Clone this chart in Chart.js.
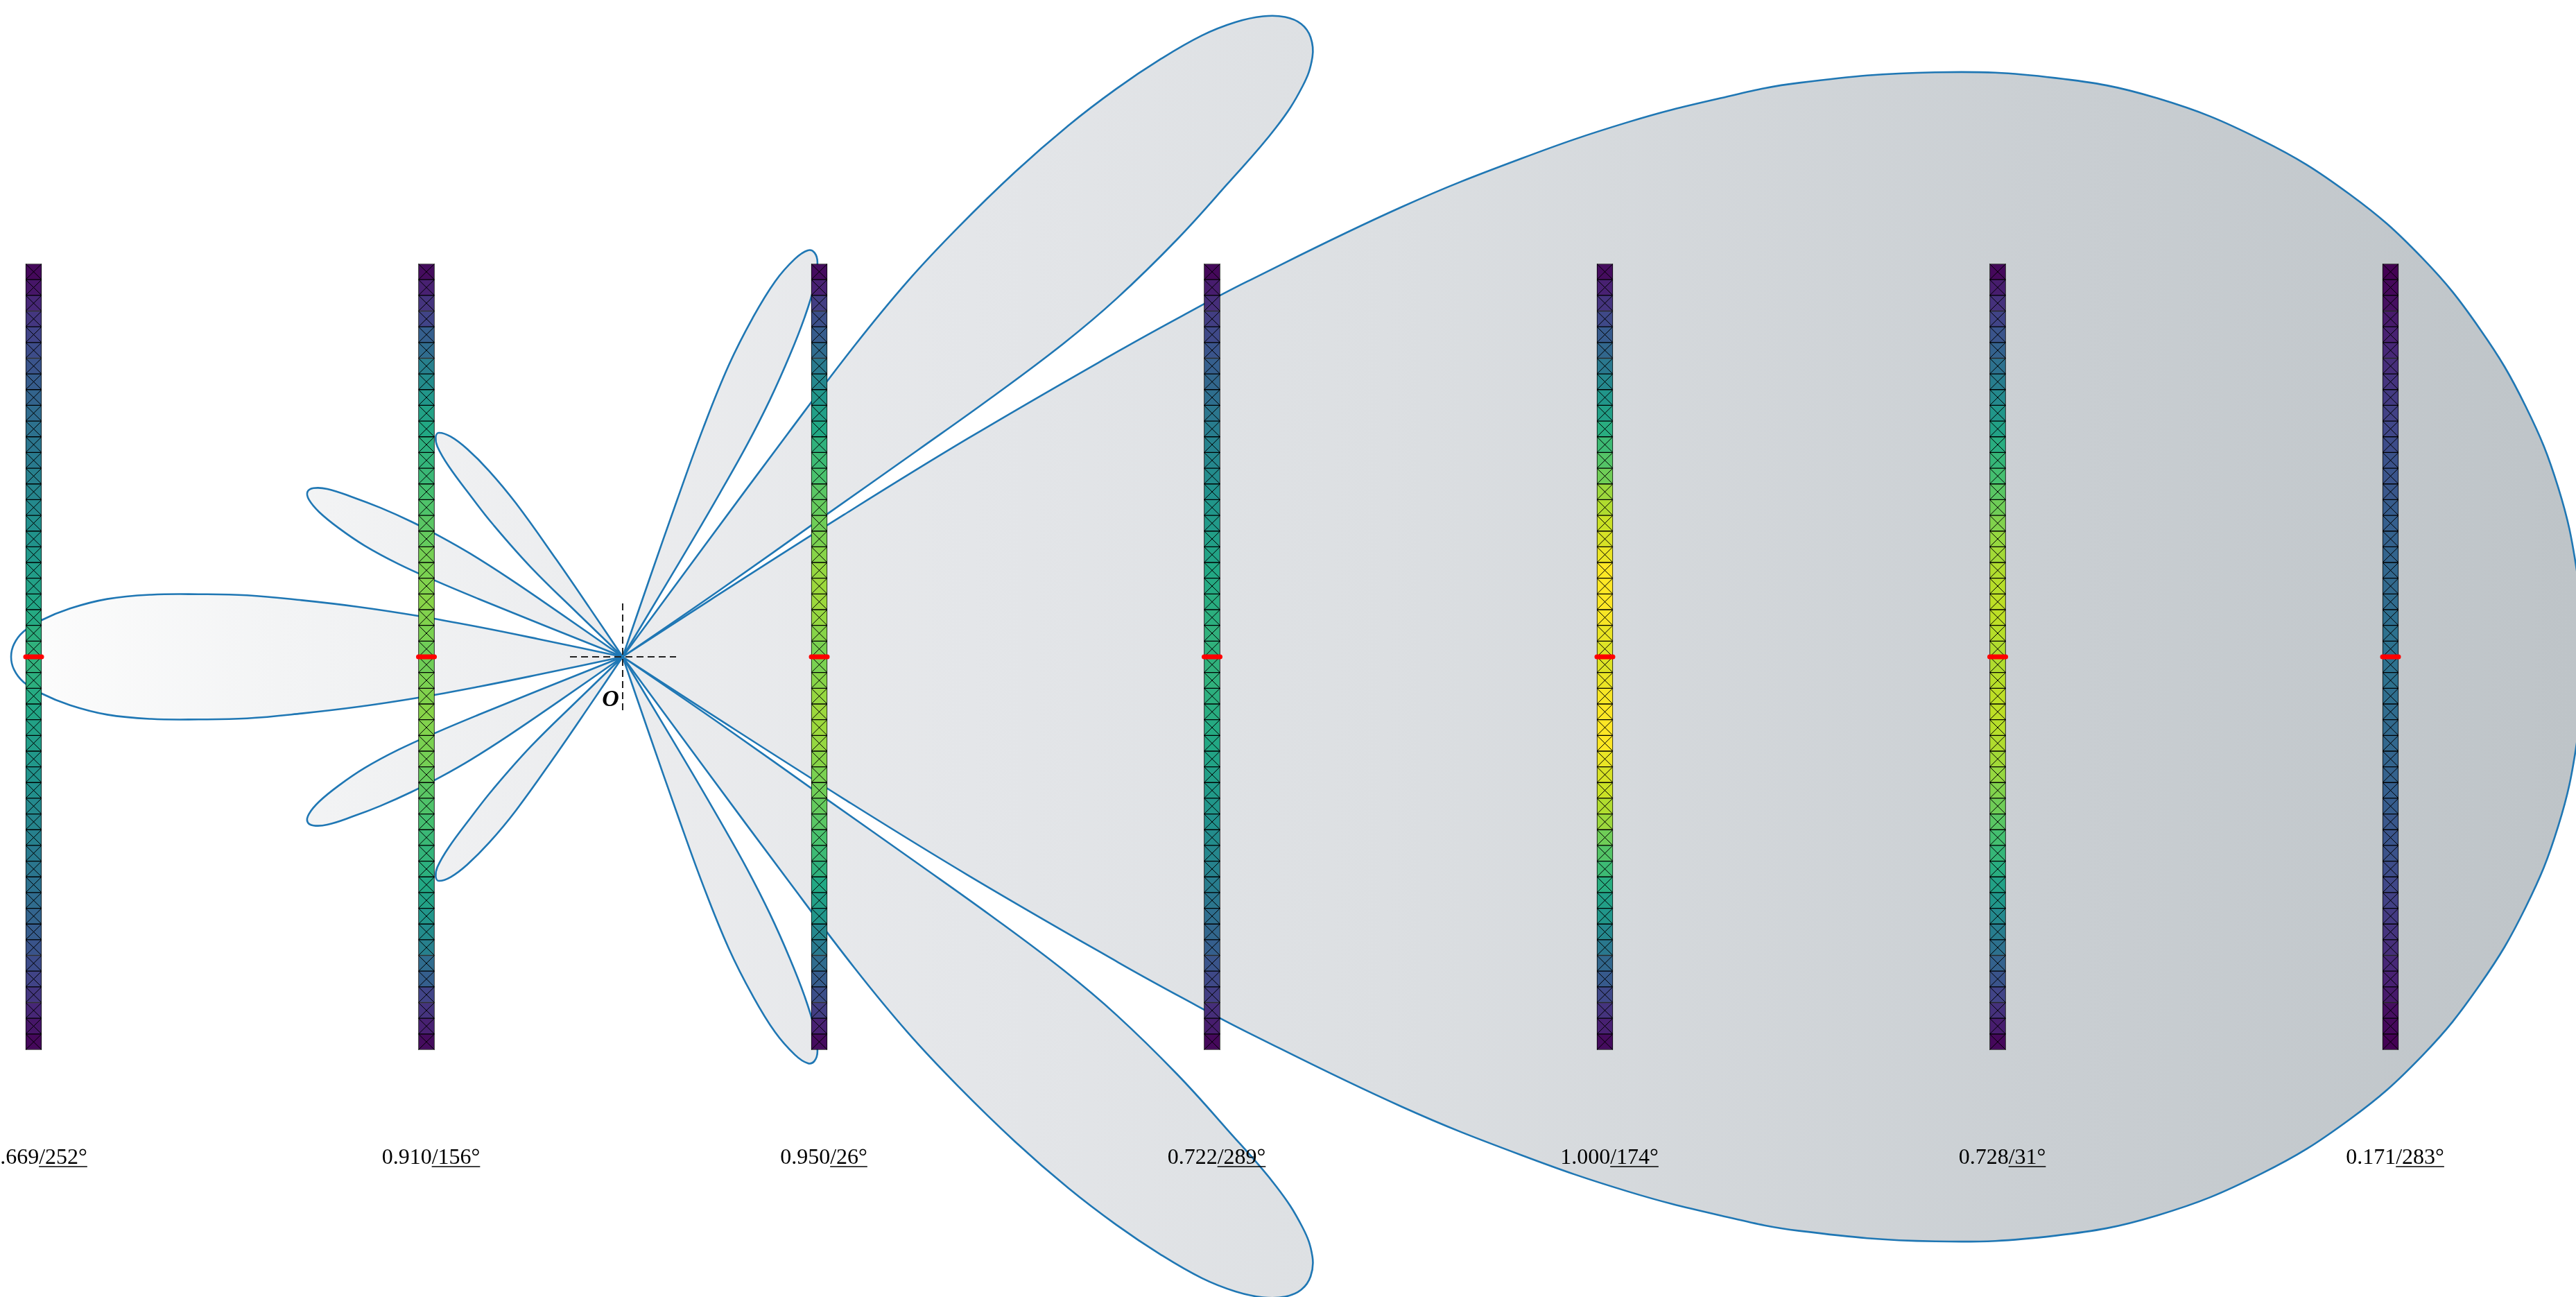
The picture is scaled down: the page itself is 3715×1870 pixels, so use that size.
<!DOCTYPE html>
<html>
<head>
<meta charset="utf-8">
<title>Array factor</title>
<script src="https://cdn.jsdelivr.net/npm/chart.js@4/dist/chart.umd.js"></script>
<style>
  html, body { margin: 0; padding: 0; background: #fff; overflow: hidden; }
  canvas { display: block; }
</style>
</head>
<body>
<canvas id="chart" width="3715" height="1870"></canvas>
<script>
// element excitations, printed under each column
const elementAmplitudes = [0.669, 0.910, 0.950, 0.722, 1.000, 0.728, 0.171];
const elementPhases = [252, 156, 26, 289, 174, 31, 283];

// viridis level of the cells, top edge down to the middle (columns are mirrored about y = 0)
const column1Levels = [0.02, 0.06, 0.11, 0.16, 0.20, 0.23, 0.26, 0.29, 0.32, 0.35, 0.37, 0.39, 0.41, 0.43, 0.45, 0.47, 0.49, 0.51, 0.53, 0.55, 0.57, 0.59, 0.61, 0.63, 0.64];
const column2Levels = [0.03, 0.09, 0.15, 0.20, 0.30, 0.35, 0.43, 0.48, 0.52, 0.57, 0.60, 0.63, 0.65, 0.67, 0.70, 0.72, 0.74, 0.76, 0.79, 0.80, 0.81, 0.82, 0.81, 0.80, 0.78];
const column3Levels = [0.03, 0.09, 0.18, 0.24, 0.29, 0.35, 0.41, 0.46, 0.52, 0.56, 0.60, 0.64, 0.68, 0.71, 0.74, 0.76, 0.78, 0.80, 0.82, 0.84, 0.85, 0.85, 0.84, 0.82, 0.80];
const column4Levels = [0.02, 0.08, 0.13, 0.18, 0.22, 0.26, 0.30, 0.33, 0.36, 0.39, 0.42, 0.44, 0.46, 0.48, 0.50, 0.52, 0.54, 0.56, 0.58, 0.60, 0.61, 0.62, 0.63, 0.64, 0.64];
const column5Levels = [0.03, 0.09, 0.15, 0.22, 0.28, 0.33, 0.40, 0.46, 0.52, 0.56, 0.62, 0.68, 0.73, 0.78, 0.85, 0.88, 0.92, 0.94, 0.97, 1.00, 1.00, 1.00, 0.99, 0.97, 0.95];
const column6Levels = [0.02, 0.08, 0.14, 0.20, 0.26, 0.31, 0.37, 0.42, 0.47, 0.52, 0.57, 0.62, 0.66, 0.70, 0.74, 0.78, 0.81, 0.84, 0.86, 0.88, 0.89, 0.90, 0.90, 0.89, 0.88];
const column7Levels = [0.00, 0.02, 0.04, 0.07, 0.09, 0.11, 0.13, 0.15, 0.17, 0.19, 0.21, 0.23, 0.25, 0.26, 0.27, 0.29, 0.30, 0.31, 0.32, 0.33, 0.34, 0.35, 0.36, 0.37, 0.37];
const columnLevels = [column1Levels, column2Levels, column3Levels, column4Levels, column5Levels, column6Levels, column7Levels];

// pattern outline: angle in degrees, radius in plot units
const mainLobeAngles = [0, 2.5, 5, 7.5, 10, 12.5, 15, 17.5, 20, 22, 24, 26, 27, 28, 29, 30, 31, 31.35, 31.65, 32.3, 32.7, 33, 33.15];
const mainLobeRadii = [2829, 2821, 2802, 2768, 2720, 2658, 2578, 2478, 2355, 2228, 2072, 1888, 1772, 1642, 1482, 1297, 1050, 945, 840, 590, 380, 150, 0];

const lobe42Angles = [34, 34.5, 34.9, 35, 35.1, 35.4, 35.95, 36.96, 38, 39, 40, 41, 42, 43, 44, 45, 46, 47, 48, 49, 50, 51, 52, 52.8, 53.3, 53.5, 53.6, 53.6];
const lobe42Radii = [0, 170, 358, 520, 650, 780, 880, 1000, 1105, 1212, 1280, 1318, 1335, 1338, 1328, 1306, 1272, 1225, 1160, 1085, 1000, 900, 785, 680, 560, 400, 200, 0];

const lobe65Angles = [58.9, 59, 59.1, 59.3, 59.6, 60.2, 61, 61.8, 62.7, 63.7, 64.6, 65.5, 66.6, 67.9, 69, 70, 70.6, 70.85, 71, 71.1];
const lobe65Radii = [0, 115, 200, 275, 354, 428, 497, 555, 603, 634, 645, 644, 625, 584, 524, 448, 350, 240, 120, 0];

const lobe130Angles = [136.1, 136, 135.7, 134.4, 133.4, 132.4, 131.4, 130.4, 129.4, 128, 126.8, 125.7, 124.8, 124.3, 124.1, 124];
const lobe130Radii = [0, 90, 185, 268, 318, 372, 404, 416, 418, 403, 374, 330, 270, 170, 85, 0];

const lobe152Angles = [158.4, 158.2, 158.1, 157.9, 157.5, 156.7, 155.6, 154.5, 153.4, 152.4, 151.4, 150.4, 149.4, 148.4, 147.4, 146.6, 145.9, 145.4, 145.15, 145];
const lobe152Radii = [0, 120, 224, 290, 350, 405, 450, 485, 506, 513, 508, 490, 452, 410, 362, 315, 265, 200, 110, 0];

const backLobeAngles = [168, 168.1, 168.3, 168.7, 169.3, 170, 170.7, 171.6, 172.5, 173.6, 175, 176.4, 177.6, 178.8, 180];
const backLobeRadii = [0, 125, 213, 301, 388, 470, 549, 618, 686, 748, 800, 840, 865, 878, 882];

// canvas layout, plot units are canvas pixels with the pattern origin at (898, 947)
const WIDTH = 3715;
const HEIGHT = 1870;
const ORIGIN_X = 898;
const ORIGIN_Y = 947;
const COLUMN_PITCH = 566.5;
const FIRST_COLUMN = -849.5;
const CELL_HEIGHT = 22.66;
const CELL_WIDTH = 23;

const VIRIDIS = ["#440154", "#482475", "#414487", "#355f8d", "#2a788e", "#21918c", "#22a884", "#44bf70", "#7ad151", "#bddf26", "#fde725"];
const OUTLINE = "#1f77b4";

function viridis(level) {
    const pos = Math.min(level, 0.9999) * 10;
    const i = Math.floor(pos);
    const t = pos - i;
    const a = VIRIDIS[i];
    const b = VIRIDIS[i + 1];
    const mix = (k) => {
        const from = parseInt(a.substr(k, 2), 16);
        const to = parseInt(b.substr(k, 2), 16);
        return Math.round(from + (to - from) * t);
    };
    return `rgb(${mix(1)},${mix(3)},${mix(5)})`;
}

function polar(angle, radius, sign) {
    const rad = angle * Math.PI / 180;
    return { x: radius * Math.cos(rad), y: sign * radius * Math.sin(rad) };
}

function lobePoints(angles, radii, sign) {
    return angles.map((a, i) => polar(a, radii[i], sign));
}

// lobes that straddle the x axis: outer edge in, across the axis and back out
function closedLobePoints(angles, radii) {
    const upper = lobePoints(angles, radii, 1);
    const lower = lobePoints(angles, radii, -1);
    if (angles[0] === 0) {
        return upper.slice().reverse().concat(lower.slice(1));
    }
    return upper.concat(lower.slice(0, -1).reverse());
}

const canvas = document.getElementById("chart");
const lobeFill = canvas.getContext("2d").createLinearGradient(0, 0, WIDTH, 0);
lobeFill.addColorStop(0, "#fdfdfd");
lobeFill.addColorStop(400 / WIDTH, "#f3f4f5");
lobeFill.addColorStop(900 / WIDTH, "#ebecee");
lobeFill.addColorStop(1400 / WIDTH, "#e4e6e9");
lobeFill.addColorStop(2000 / WIDTH, "#dcdfe2");
lobeFill.addColorStop(3000 / WIDTH, "#c9ced2");
lobeFill.addColorStop(1, "#bec4c8");

function lobeDataset(points) {
    return {
        type: "scatter",
        data: points,
        showLine: true,
        pointRadius: 0,
        tension: 0.4,
        borderColor: OUTLINE,
        borderWidth: 2.6,
        backgroundColor: lobeFill,
        fill: "shape",
        order: 6,
    };
}

function lineDataset(points, color, width, order, extra) {
    return Object.assign({
        type: "scatter",
        data: points,
        showLine: true,
        pointRadius: 0,
        borderColor: color,
        borderWidth: width,
        fill: false,
        order,
    }, extra);
}

const datasets = [];

datasets.push(lobeDataset(closedLobePoints(mainLobeAngles, mainLobeRadii)));
datasets.push(lobeDataset(closedLobePoints(backLobeAngles, backLobeRadii)));
[[lobe42Angles, lobe42Radii], [lobe65Angles, lobe65Radii], [lobe130Angles, lobe130Radii], [lobe152Angles, lobe152Radii]].forEach(([angles, radii]) => {
    datasets.push(lobeDataset(lobePoints(angles, radii, 1)));
    datasets.push(lobeDataset(lobePoints(angles, radii, -1)));
});

// dashed cross at the origin
datasets.push(lineDataset([{ x: -76, y: 0 }, { x: 77, y: 0 }], "#222222", 2, 5, { borderDash: [10, 6] }));
datasets.push(lineDataset([{ x: 0, y: 77 }, { x: 0, y: -77 }], "#222222", 2, 5, { borderDash: [10, 6] }));

columnLevels.forEach((levels, c) => {
    const x = FIRST_COLUMN + c * COLUMN_PITCH;
    const all = levels.concat(levels.slice().reverse());
    const top = all.length * CELL_HEIGHT / 2;
    const edge = (k) => top - k * CELL_HEIGHT;

    datasets.push({
        type: "bar",
        data: all.map((_, k) => ({ x, y: [edge(k + 1), edge(k)] })),
        backgroundColor: all.map(viridis),
        borderColor: "#000000",
        borderWidth: 1,
        borderSkipped: false,
        barThickness: CELL_WIDTH,
        grouped: false,
        order: 4,
    });

    // two zigzags make the X in every cell
    const zig = [];
    const zag = [];
    for (let k = 0; k <= all.length; k++) {
        const side = k % 2 === 0 ? 1 : -1;
        zig.push({ x: x - side * CELL_WIDTH / 2, y: edge(k) });
        zag.push({ x: x + side * CELL_WIDTH / 2, y: edge(k) });
    }
    datasets.push(lineDataset(zig, "#000000", 1, 3));
    datasets.push(lineDataset(zag, "#000000", 1, 3));

    datasets.push(lineDataset([{ x: x - 11.5, y: 0 }, { x: x + 11.5, y: 0 }], "#ff0000", 7, 2, { borderCapStyle: "round" }));
});

const labelsPlugin = {
    id: "labels",
    afterDatasetsDraw(chart) {
        const { ctx, scales } = chart;
        ctx.save();
        ctx.fillStyle = "#000000";
        ctx.strokeStyle = "#000000";
        ctx.textBaseline = "alphabetic";
        ctx.textAlign = "left";
        ctx.font = "32px 'Liberation Serif'";
        const base = scales.y.getPixelForValue(-731);
        elementAmplitudes.forEach((amp, c) => {
            const mid = scales.x.getPixelForValue(FIRST_COLUMN + c * COLUMN_PITCH + 6.5);
            const value = amp.toFixed(3);
            const phase = "/" + elementPhases[c] + "°";
            const valueWidth = ctx.measureText(value).width;
            const phaseWidth = ctx.measureText(phase).width;
            const left = mid - (valueWidth + phaseWidth) / 2;
            ctx.fillText(value, left, base);
            ctx.fillText(phase, left + valueWidth, base);
            ctx.lineWidth = 1.4;
            ctx.beginPath();
            ctx.moveTo(left + valueWidth, base + 4);
            ctx.lineTo(left + valueWidth + phaseWidth, base + 4);
            ctx.stroke();
        });
        ctx.font = "italic bold 34px 'Liberation Serif'";
        ctx.textAlign = "center";
        ctx.fillText("O", scales.x.getPixelForValue(-17.5), scales.y.getPixelForValue(-71));
        ctx.restore();
    },
};

new Chart(canvas, {
    type: "scatter",
    data: { datasets },
    options: {
        responsive: false,
        animation: false,
        devicePixelRatio: 1,
        events: [],
        layout: { padding: 0 },
        plugins: {
            legend: { display: false },
            tooltip: { enabled: false },
            title: { display: false },
        },
        elements: {
            line: { capBezierPoints: false },
        },
        scales: {
            x: {
                type: "linear",
                display: false,
                offset: false,
                min: -ORIGIN_X,
                max: WIDTH - ORIGIN_X,
                grid: { display: false },
            },
            y: {
                type: "linear",
                display: false,
                min: ORIGIN_Y - HEIGHT,
                max: ORIGIN_Y,
                grid: { display: false },
            },
        },
    },
    plugins: [labelsPlugin],
});
</script>
</body>
</html>
